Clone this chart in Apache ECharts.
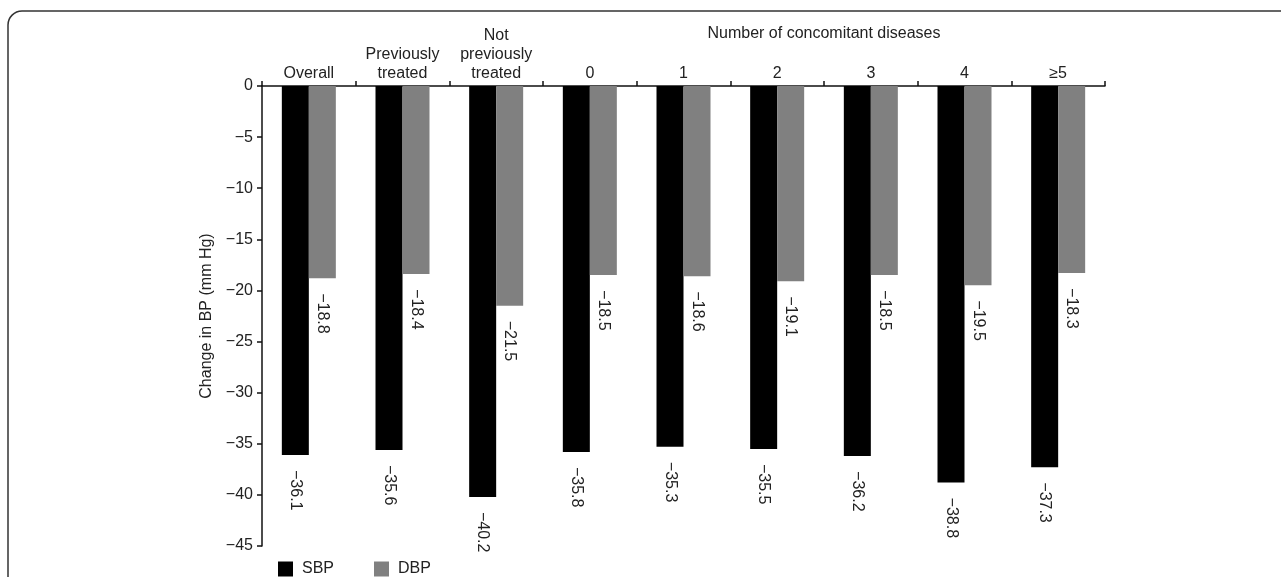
<!DOCTYPE html>
<html>
<head>
<meta charset="utf-8">
<script src="https://cdn.jsdelivr.net/npm/echarts@6/dist/echarts.min.js"></script>
<style>
html,body{margin:0;padding:0;background:#fff;}
#chart{width:1281px;height:577px;}
</style>
</head>
<body>
<div id="chart"></div>
<script>
const categories = ['Overall', 'Previously\ntreated', 'Not\npreviously\ntreated', '0', '1', '2', '3', '4', '\u22655'];
const sbpValues = [-36.1, -35.6, -40.2, -35.8, -35.3, -35.5, -36.2, -38.8, -37.3];
const dbpValues = [-18.8, -18.4, -21.5, -18.5, -18.6, -19.1, -18.5, -19.5, -18.3];
const seriesNames = ['SBP', 'DBP'];
const groupTitle = 'Number of concomitant diseases';
const yAxisTitle = 'Change in BP (mm Hg)';

const FONT = "'Liberation Sans', Arial, Helvetica, sans-serif";
const TXT = '#222';
const fmtNeg = v => (v < 0 ? '\u2212' + Math.abs(v) : String(v));

const chart = echarts.init(document.getElementById('chart'));

const labelCfg = {
  show: true,
  position: 'bottom',
  rotate: -90,
  align: 'left',
  verticalAlign: 'middle',
  distance: 15,
  fontSize: 16,
  fontFamily: FONT,
  color: TXT,
  formatter: p => fmtNeg(p.value.toFixed(1))
};

chart.setOption({
  animation: false,
  backgroundColor: '#fff',
  textStyle: { fontFamily: FONT },
  grid: { left: 262, right: 176, top: 86, bottom: 31, containLabel: false },
  legend: {
    data: seriesNames,
    left: 278,
    top: 561,
    padding: 0,
    itemWidth: 15,
    itemHeight: 15,
    itemGap: 40,
    icon: 'rect',
    textStyle: { fontSize: 16, color: TXT, fontFamily: FONT, padding: [0, 0, 0, 4] }
  },
  graphic: [
    {
      type: 'rect',
      z: -10,
      silent: true,
      shape: { x: 8, y: 11, width: 1400, height: 700, r: 14 },
      style: { fill: 'none', stroke: '#333', lineWidth: 1.5 }
    },
    {
      type: 'text',
      x: 824,
      y: 34,
      silent: true,
      style: {
        text: groupTitle,
        font: '16px ' + FONT,
        fill: TXT,
        align: 'center',
        verticalAlign: 'middle'
      }
    }
  ],
  xAxis: {
    type: 'category',
    position: 'top',
    data: categories,
    axisLine: { show: true, lineStyle: { color: '#111', width: 1.5 } },
    axisTick: { show: true, inside: false, length: 5, lineStyle: { color: '#111', width: 1.5 } },
    axisLabel: {
      interval: 0,
      margin: 3,
      fontSize: 16,
      lineHeight: 19,
      color: TXT,
      fontFamily: FONT
    },
    splitLine: { show: false }
  },
  yAxis: {
    type: 'value',
    min: -45,
    max: 0,
    interval: 5,
    name: yAxisTitle,
    nameLocation: 'middle',
    nameGap: 47,
    nameTextStyle: { fontSize: 16, color: TXT, fontFamily: FONT },
    axisLine: { show: true, lineStyle: { color: '#111', width: 1.5 } },
    axisTick: { show: true, inside: false, length: 5, lineStyle: { color: '#111', width: 1.5 } },
    axisLabel: {
      margin: 9,
      fontSize: 16,
      color: TXT,
      fontFamily: FONT,
      formatter: v => fmtNeg(v)
    },
    splitLine: { show: false }
  },
  series: [
    {
      name: seriesNames[0],
      type: 'bar',
      data: sbpValues,
      barWidth: 27,
      barGap: '0%',
      itemStyle: { color: '#000' },
      label: labelCfg
    },
    {
      name: seriesNames[1],
      type: 'bar',
      data: dbpValues,
      barWidth: 27,
      barGap: '0%',
      itemStyle: { color: '#808080' },
      label: labelCfg
    }
  ]
});
</script>
</body>
</html>
